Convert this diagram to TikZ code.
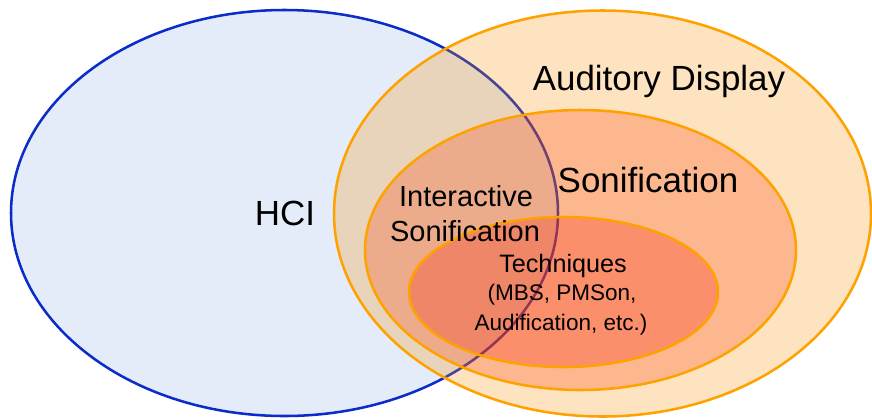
\documentclass[tikz,border=0pt]{standalone}
\usepackage{fontspec}
\setmainfont{Liberation Sans}
\definecolor{hcifill}{RGB}{228,236,250}
\definecolor{hciline}{RGB}{11,44,200}
\definecolor{adfill}{RGB}{247,143,0}
\definecolor{sonfill}{RGB}{249,55,2}
\definecolor{techfill}{RGB}{252,24,0}
\definecolor{orline}{RGB}{255,162,0}
\tikzset{
  hcistyle/.style={fill=hcifill, draw=hciline, line width=1.9pt},
  orstyle/.style={fill=#1, fill opacity=0.25, draw=orline, draw opacity=1, line width=1.9pt},
  lbl/.style={anchor=base, inner sep=0pt, text=black},
}
\begin{document}
\begin{tikzpicture}[x=0.75pt,y=-0.75pt]
\useasboundingbox (0,0) rectangle (872,419);
% HCI
\draw[hcistyle] (284.5,213) ellipse [x radius=273.5, y radius=203];
% Auditory Display
\draw[orstyle=adfill] (602.5,213.5) ellipse [x radius=268.5, y radius=203];
% Sonification
\draw[orstyle=sonfill] (580.5,250) ellipse [x radius=215.5, y radius=140];
% Techniques
\draw[orstyle=techfill] (563.5,292) ellipse [x radius=154.5, y radius=75];
% labels
\node[lbl, font=\fontsize{26.2pt}{30pt}\selectfont] (hci) at (285,225) {HCI};
\node[lbl, font=\fontsize{26.2pt}{30pt}\selectfont] (ad) at (659,90) {Auditory Display};
\node[lbl, font=\fontsize{26.2pt}{30pt}\selectfont] (son) at (648,192) {Sonification};
\node[lbl, font=\fontsize{21.75pt}{26pt}\selectfont] (is1) at (466,206) {Interactive};
\node[lbl, font=\fontsize{21.75pt}{26pt}\selectfont] (is2) at (465,241) {Sonification};
\node[lbl, font=\fontsize{18.9pt}{22pt}\selectfont] (tech) at (563,272) {Techniques};
\node[lbl, font=\fontsize{16.9pt}{20pt}\selectfont] (tech2) at (562,300) {(MBS, PMSon,};
\node[lbl, font=\fontsize{16.9pt}{20pt}\selectfont] (tech3) at (561,330) {Audification, etc.)};
\end{tikzpicture}
\end{document}
